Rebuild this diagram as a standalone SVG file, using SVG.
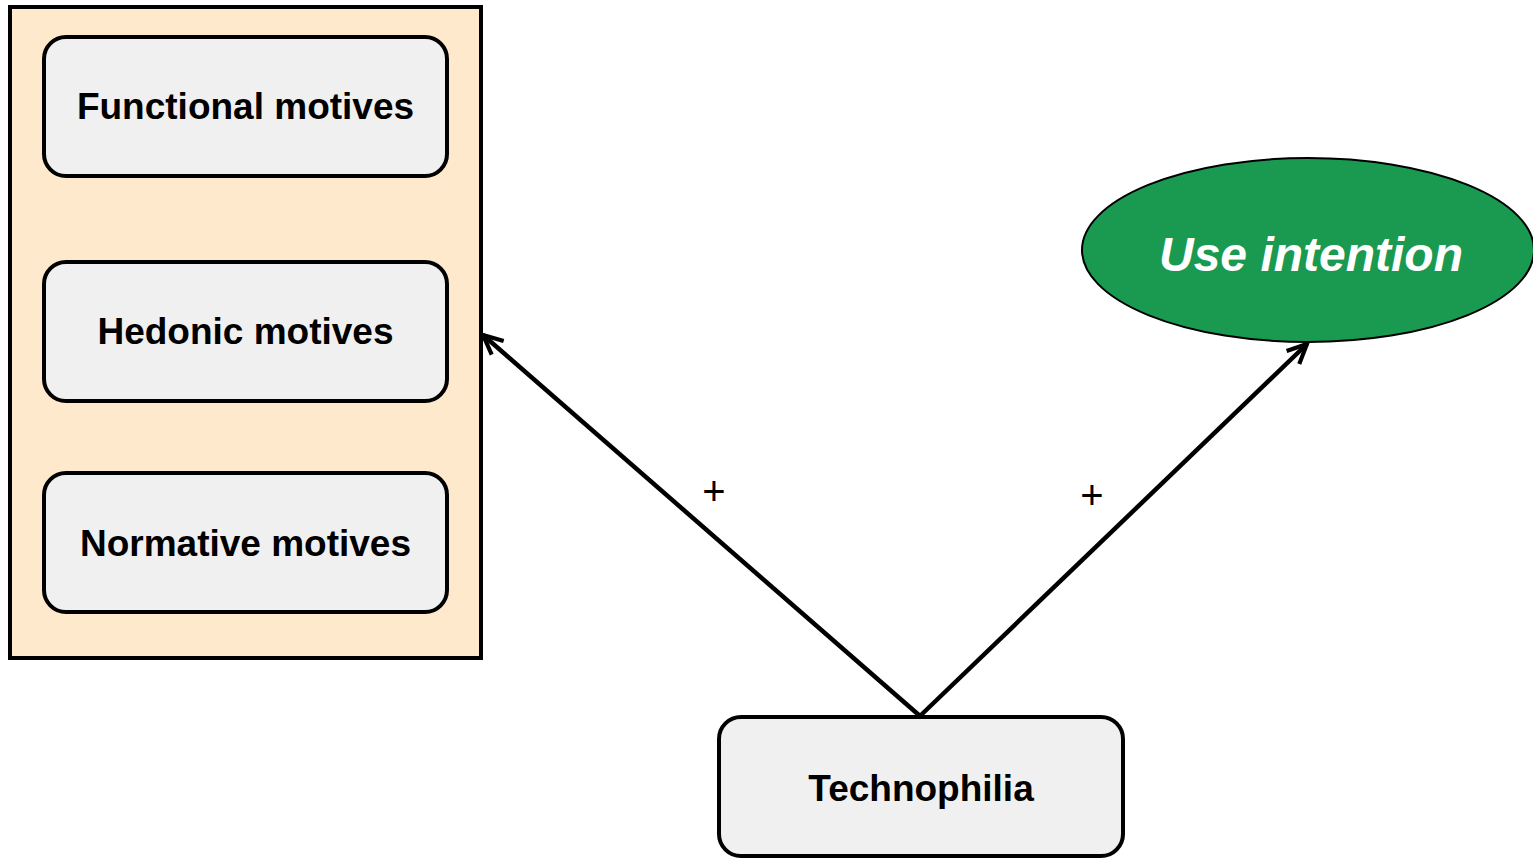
<svg xmlns="http://www.w3.org/2000/svg" width="1533" height="858" viewBox="0 0 1533 858">
<style>
.box{fill:#F0F0F0;stroke:#000;stroke-width:4}
.lbl{font-family:"Liberation Sans",Arial,sans-serif;font-weight:bold;font-size:37px;fill:#000;text-anchor:middle;dominant-baseline:central}
.conn{stroke:#000;stroke-width:4.5;fill:none}
.plus{font-family:"Liberation Sans",Arial,sans-serif;font-size:40px;fill:#000;text-anchor:middle;dominant-baseline:central}
</style>
<defs>
<marker id="arr" viewBox="0 0 20 20" refX="18" refY="10" markerWidth="26" markerHeight="26" orient="auto" markerUnits="userSpaceOnUse">
<polyline points="3,3 18,10 3,17" fill="none" stroke="#000" stroke-width="3.2"/>
</marker>
</defs>
<g id="group-motives">
<rect x="10" y="7" width="471" height="651" fill="#FFE9CC" stroke="#000" stroke-width="4"/>
</g>
<g id="node-functional">
<rect class="box" x="44" y="37" width="403" height="139" rx="22"/>
<text class="lbl" x="245.5" y="106">Functional motives</text>
</g>
<g id="node-hedonic">
<rect class="box" x="44" y="262" width="403" height="139" rx="22"/>
<text class="lbl" x="245.5" y="331">Hedonic motives</text>
</g>
<g id="node-normative">
<rect class="box" x="44" y="473" width="403" height="139" rx="22"/>
<text class="lbl" x="245.5" y="543">Normative motives</text>
</g>
<g id="node-use">
<ellipse cx="1308" cy="250" rx="226" ry="92" fill="#1A9A50" stroke="#000" stroke-width="2"/>
<text x="1311" y="254" font-family="'Liberation Sans',Arial,sans-serif" font-weight="bold" font-style="italic" font-size="48" fill="#fff" text-anchor="middle" dominant-baseline="central">Use intention</text>
</g>
<g id="node-techno">
<rect class="box" x="719" y="717" width="404" height="139" rx="22"/>
<text class="lbl" x="921" y="788">Technophilia</text>
</g>
<g id="connectors">
<line class="conn" x1="920" y1="716" x2="483" y2="335" marker-end="url(#arr)"/>
<line class="conn" x1="920" y1="716" x2="1307" y2="344" marker-end="url(#arr)"/>
<text class="plus" x="714" y="491">+</text>
<text class="plus" x="1092" y="495">+</text>
</g>
</svg>
